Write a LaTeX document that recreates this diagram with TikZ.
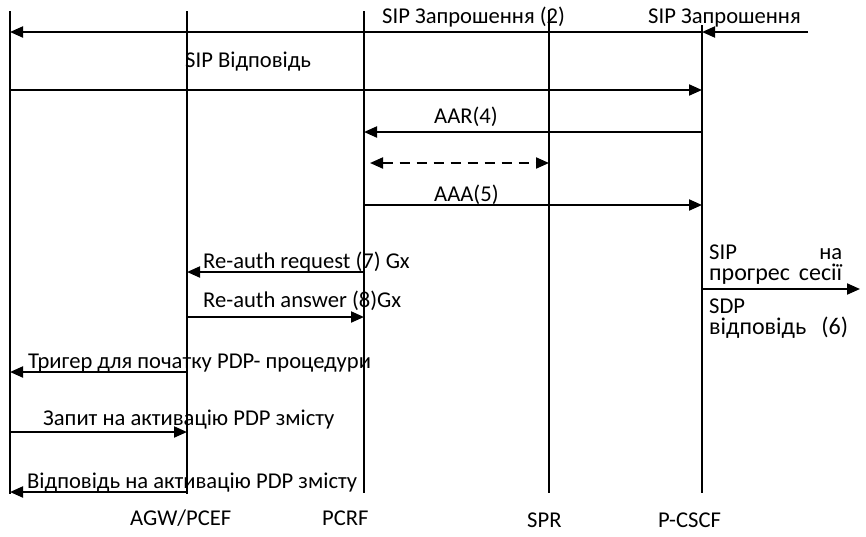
\documentclass[tikz,border=0pt]{standalone}
\usepackage{fontspec}
\setmainfont{Carlito}
\usetikzlibrary{arrows.meta}
\newcommand{\widetxt}{\fontsize{24}{21}\selectfont}
\begin{document}
\begin{tikzpicture}[x=1pt,y=-1pt,
  life/.style={line width=1.5pt},
  msg/.style={line width=2pt,-{Triangle[length=13pt,width=11pt]}},
  dmsg/.style={line width=2pt,dash pattern=on 10pt off 7pt,{Triangle[length=13pt,width=11pt]}-{Triangle[length=13pt,width=11pt]}},
  lbl/.style={anchor=base west,inner sep=0pt,font=\fontsize{22.6}{21}\selectfont},
  blk/.style={lbl,text width=#1,align=left},
]
\useasboundingbox (0,0) rectangle (866,536);

% lifelines
\coordinate (ueT) at (10,11);   \coordinate (ueB) at (10,494);
\coordinate (agwT) at (187,11); \coordinate (agwB) at (187,494);
\coordinate (pcrfT) at (364,11); \coordinate (pcrfB) at (364,493);
\coordinate (sprT) at (549,10); \coordinate (sprB) at (549,493);
\coordinate (cscfT) at (702,25); \coordinate (cscfB) at (702,493);
\foreach \l in {ue,agw,pcrf,spr,cscf} \draw[life] (\l T) -- (\l B);

% entity names
\node[lbl] (nAgw) at (130,525) {AGW/PCEF};
\node[lbl] (nPcrf) at (322,525) {PCRF};
\node[lbl] (nSpr) at (527,527) {SPR};
\node[lbl] (nCscf) at (658,527) {P-CSCF};

% message end points
\coordinate (in0) at (808,32);  \coordinate (in1) at (702,32);
\coordinate (inv2a) at (702,32); \coordinate (inv2b) at (10,32);
\coordinate (rsp3a) at (10,90); \coordinate (rsp3b) at (702,90);
\coordinate (aara) at (702,132); \coordinate (aarb) at (364,132);
\coordinate (spra) at (370,163); \coordinate (sprb) at (549,163);
\coordinate (aaaa) at (364,205); \coordinate (aaab) at (702,205);
\coordinate (rara) at (364,272); \coordinate (rarb) at (187,272);
\coordinate (raaa) at (187,317); \coordinate (raab) at (364,317);
\coordinate (prga) at (702,289); \coordinate (prgb) at (860,289);
\coordinate (trga) at (187,372); \coordinate (trgb) at (10,372);
\coordinate (reqa) at (10,432); \coordinate (reqb) at (187,432);
\coordinate (ansa) at (187,492); \coordinate (ansb) at (10,492);

% messages
\draw[msg] (in0) -- (in1);
\draw[msg] (inv2a) -- (inv2b);
\draw[msg] (rsp3a) -- (rsp3b);
\draw[msg] (aara) -- (aarb);
\draw[dmsg] (spra) -- (sprb);
\draw[msg] (aaaa) -- (aaab);
\draw[msg] (rara) -- (rarb);
\draw[msg] (raaa) -- (raab);
\draw[msg] (prga) -- (prgb);
\draw[msg] (trga) -- (trgb);
\draw[msg] (reqa) -- (reqb);
\draw[msg] (ansa) -- (ansb);

% message labels
\node[lbl] (tIn) at (648,23) {SIP Запрошення};
\node[lbl] (tInv) at (382,23) {SIP Запрошення (2)};
\node[lbl] (tRsp) at (185,67) {SIP Відповідь};
\node[lbl] (tAar) at (434,123) {AAR(4)};
\node[lbl] (tAaa) at (434,201) {AAA(5)};
\node[lbl] (tRar) at (203,268) {Re-auth request (7) Gx};
\node[lbl] (tRaa) at (203,307) {Re-auth answer (8)Gx};
% justified blocks beside the outgoing progress message
\node[blk=133pt] (tProg) at (709,259)
  {SIP\hfill на\\{\widetxt прогрес\hfill сесії}};
\node[blk=139pt] (tSdp) at (709,313)
  {SDP\\{\widetxt відповідь\hfill (6)}};
\node[lbl] (tTrg) at (28,368) {Тригер для початку PDP- процедури};
\node[lbl] (tReq) at (43,425) {Запит на активацію PDP змісту};
\node[lbl] (tAns) at (27,488) {Відповідь на активацію PDP змісту};
\end{tikzpicture}
\end{document}
